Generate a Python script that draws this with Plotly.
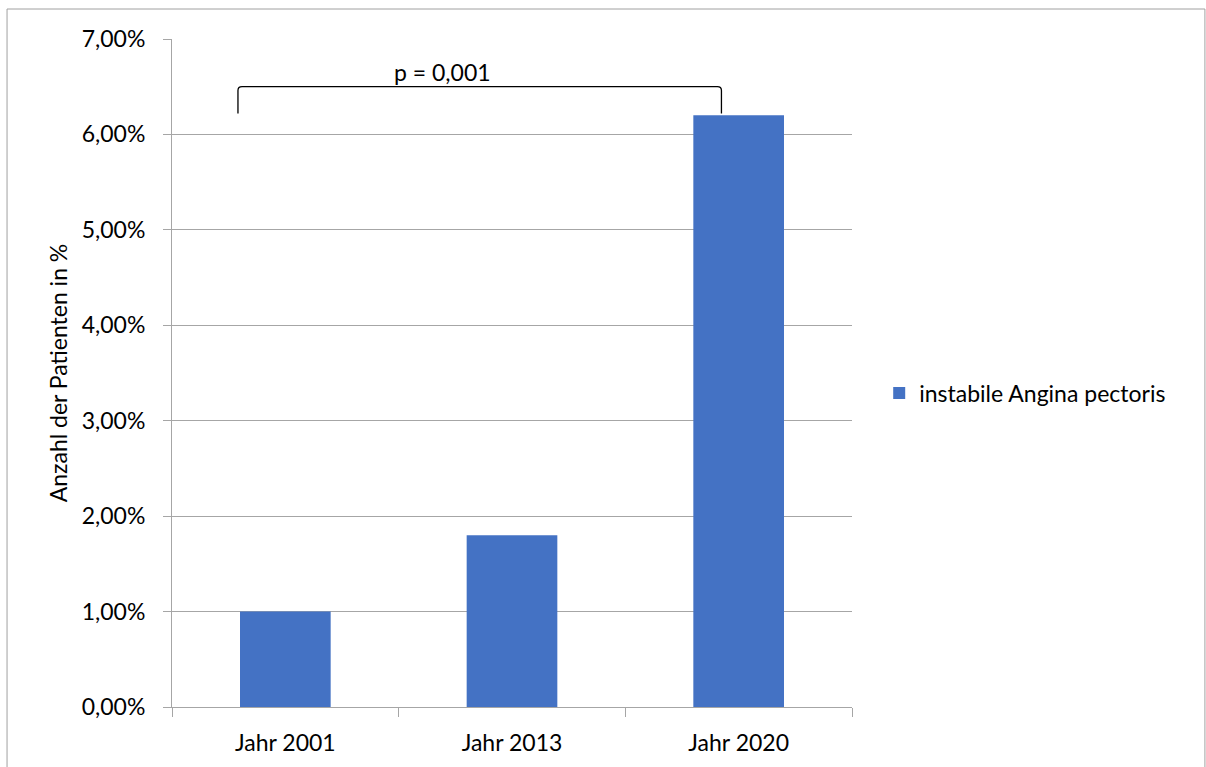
import plotly.graph_objects as go

categories = ["Jahr 2001", "Jahr 2013", "Jahr 2020"]
values = [1.00, 1.80, 6.20]
series_name = "instabile Angina pectoris"
y_ticks = [0, 1, 2, 3, 4, 5, 6, 7]
y_tick_text = [f"{v:.2f}%".replace(".", ",") for v in y_ticks]
p_label = "p = 0,001"

FONT = "Lato"
FS = 23
GRID = "#a6a6a6"
BAR = "#4472c4"

fig = go.Figure()
fig.add_trace(go.Bar(
    x=categories, y=values, name=series_name,
    marker=dict(color=BAR, line=dict(width=0)),
    width=0.4, showlegend=True,
))

# significance bracket between first and last bar
xl, xr = 0.097, 0.808
yb, yt = 6.22, 6.50
fig.add_shape(
    type="path", xref="paper", yref="y",
    path=f"M {xl},{yb} L {xl},{yt-0.04} Q {xl},{yt} {xl+0.006},{yt} "
         f"L {xr-0.006},{yt} Q {xr},{yt} {xr},{yt-0.04} L {xr},{yb}",
    line=dict(color="#000000", width=1.3),
)
fig.add_annotation(
    x=(xl + xr) / 2 - 0.055, xref="paper", y=6.65, yref="y",
    text=p_label, showarrow=False,
    font=dict(family=FONT, size=FS, color="#000000"),
)

# outer chart frame
fig.add_shape(
    type="rect", xref="paper", yref="paper",
    x0=-0.2426, x1=1.519, y0=-0.4, y1=1.0449,
    line=dict(color="#a0a0a0", width=1), fillcolor="rgba(0,0,0,0)", layer="below",
)

fig.update_layout(
    width=1206, height=767,
    margin=dict(l=172, r=354, t=39, b=60),
    paper_bgcolor="white", plot_bgcolor="white",
    font=dict(family=FONT, size=FS, color="#000000"),
    bargap=0.6,
    legend=dict(
        x=1.04, xanchor="left", y=0.47, yanchor="middle",
        font=dict(family=FONT, size=FS), itemwidth=30,
        bgcolor="rgba(0,0,0,0)",
    ),
    xaxis=dict(
        type="category", showgrid=False,
        showline=True, linecolor=GRID, linewidth=1,
        ticks="outside", tickson="boundaries", ticklen=9, tickcolor=GRID,
        tickfont=dict(family=FONT, size=FS), ticklabelstandoff=15,
    ),
    yaxis=dict(
        range=[0, 7], tickmode="array", tickvals=y_ticks, ticktext=y_tick_text,
        showgrid=True, gridcolor=GRID, gridwidth=1,
        showline=True, linecolor=GRID, linewidth=1,
        ticks="outside", ticklen=8, tickcolor=GRID,
        zeroline=False, ticklabelstandoff=13,
        tickfont=dict(family=FONT, size=FS),
        title=dict(text="Anzahl der Patienten in %", font=dict(family=FONT, size=FS), standoff=7),
    ),
)

fig.write_html("out.html")
